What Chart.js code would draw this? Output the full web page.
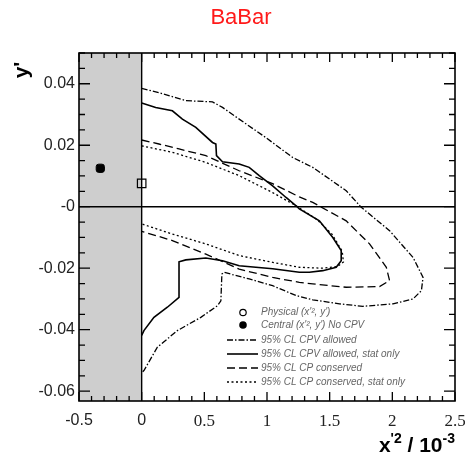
<!DOCTYPE html>
<html><head><meta charset="utf-8">
<script src="https://cdn.jsdelivr.net/npm/chart.js@4/dist/chart.umd.min.js"></script>
<style>html,body{margin:0;padding:0;background:#fff;}#wrap{width:465px;height:459px;}</style>
</head><body><div id="wrap"><canvas id="c" width="465" height="459"></canvas></div>
<script>
// ---------------- data ----------------
const chartTitle = 'BaBar';
const xRange = [-0.5, 2.5];
const yRange = [-0.0632, 0.05];
const xTickValues = [-0.5, 0, 0.5, 1, 1.5, 2, 2.5];
const xTickLabels = ['-0.5', '0', '0.5', '1', '1.5', '2', '2.5'];
const yTickValues = [-0.06, -0.04, -0.02, 0, 0.02, 0.04];
const yTickLabels = ['-0.06', '-0.04', '-0.02', '-0', '0.02', '0.04'];
const legendLabels = [
  "Physical (x'\u00B2, y')",
  "Central (x'\u00B2, y') No CPV",
  '95% CL CPV allowed',
  '95% CL CPV allowed, stat only',
  '95% CL CP conserved',
  '95% CL CP conserved, stat only'
];

// 95% CL CPV allowed (dash-dot)
const cpvAllowedX = [0.0, 0.138, 0.272, 0.352, 0.565, 0.645, 0.778, 0.99, 1.205, 1.365, 1.632, 1.752, 1.978, 2.165, 2.245, 2.232, 2.165, 2.005, 1.765, 1.578, 1.365, 1.232, 1.045, 0.858, 0.725, 0.658, 0.64, 0.632, 0.605, 0.472, 0.285, 0.125, 0.018, 0.0];
const cpvAllowedY = [0.0385, 0.0371, 0.0355, 0.0345, 0.0341, 0.0323, 0.0285, 0.0225, 0.016, 0.0128, 0.0052, -0.0002, -0.0078, -0.0165, -0.023, -0.0273, -0.030, -0.0316, -0.0324, -0.0316, -0.0303, -0.0289, -0.0257, -0.0235, -0.0221, -0.0213, -0.0219, -0.0306, -0.0322, -0.036, -0.0403, -0.0457, -0.0533, -0.054];

// 95% CL CPV allowed, stat only (solid)
const cpvStatX = [0.0, 0.112, 0.245, 0.325, 0.432, 0.565, 0.592, 0.597, 0.645, 0.778, 0.858, 0.938, 1.045, 1.152, 1.232, 1.258, 1.418, 1.525, 1.592, 1.592, 1.552, 1.445, 1.338, 1.258, 1.045, 0.778, 0.645, 0.512, 0.352, 0.298, 0.298, 0.205, 0.098, 0.018, 0.0];
const cpvStatY = [0.0337, 0.0323, 0.0312, 0.0285, 0.0258, 0.0209, 0.0204, 0.0166, 0.0146, 0.0139, 0.0128, 0.0101, 0.0068, 0.003, 0.0003, -0.0007, -0.0046, -0.010, -0.0143, -0.0176, -0.0197, -0.0208, -0.0213, -0.0213, -0.0202, -0.0192, -0.0176, -0.0167, -0.0173, -0.0179, -0.0295, -0.0327, -0.036, -0.0403, -0.0419];

// 95% CL CP conserved (dashed)
const cpConsX = [0.0, 0.138, 0.298, 0.512, 0.778, 1.045, 1.258, 1.365, 1.632, 1.818, 1.952, 1.978, 1.898, 1.632, 1.365, 1.258, 1.045, 0.778, 0.512, 0.245, 0.032, 0.0];
const cpConsY = [0.0217, 0.0204, 0.0188, 0.0166, 0.0117, 0.0075, 0.0032, 0.0014, -0.0046, -0.0121, -0.0197, -0.024, -0.026, -0.0262, -0.0251, -0.0246, -0.023, -0.0203, -0.0154, -0.011, -0.0084, -0.008];

// 95% CL CP conserved, stat only (dotted)
const cpStatX = [0.0, 0.245, 0.512, 0.778, 1.045, 1.232, 1.40, 1.52, 1.60, 1.61, 1.56, 1.44, 1.258, 1.045, 0.778, 0.512, 0.245, 0.0];
const cpStatY = [0.0198, 0.0177, 0.0144, 0.0101, 0.0046, 0.0003, -0.0042, -0.009, -0.0145, -0.018, -0.0195, -0.0200, -0.0197, -0.0181, -0.0159, -0.0121, -0.0089, -0.0056];

// points
const physicalX = [0.0];
const physicalY = [0.0076];
const centralX = [-0.33];
const centralY = [0.0125];
// ---------------------------------------

const zip = (xs, ys) => xs.map((v, i) => ({x: v, y: ys[i]}));
const DASHDOT = [6, 2, 1.5, 2];
const DASHED = [8, 4];
const DOTTED = [2, 2.5];

function lineDs(label, xs, ys, dash, w) {
  return {label, data: zip(xs, ys), showLine: true, borderColor: '#000', borderWidth: w,
    borderDash: dash, pointRadius: 0, fill: false, tension: 0};
}

const datasets = [
  lineDs(legendLabels[2], cpvAllowedX, cpvAllowedY, DASHDOT, 1.3),
  lineDs(legendLabels[3], cpvStatX, cpvStatY, [], 1.6),
  lineDs(legendLabels[4], cpConsX, cpConsY, DASHED, 1.3),
  lineDs(legendLabels[5], cpStatX, cpStatY, DOTTED, 1.3),
  {label: legendLabels[0], data: zip(physicalX, physicalY), pointStyle: 'rect', pointRadius: 6,
   backgroundColor: 'rgba(0,0,0,0)', borderColor: '#000', borderWidth: 1.2, showLine: false},
  {label: legendLabels[1], data: zip(centralX, centralY), pointStyle: 'rectRounded', pointRadius: 4.8,
   backgroundColor: '#000', borderColor: '#000', borderWidth: 1, showLine: false}
];

function minorTicks(lo, hi, step) {
  const out = [];
  const n0 = Math.ceil(lo / step - 1e-9), n1 = Math.floor(hi / step + 1e-9);
  for (let n = n0; n <= n1; n++) out.push(+(n * step).toFixed(6));
  return out;
}

const decor = {
  id: 'decor',
  beforeDatasetsDraw(chart) {
    const {ctx, chartArea: a, scales: {x, y}} = chart;
    ctx.save();
    // grey unphysical region x < 0
    const g0 = x.getPixelForValue(xRange[0]), g1 = x.getPixelForValue(0);
    ctx.fillStyle = '#cecece';
    ctx.fillRect(g0, a.top, g1 - g0, a.bottom - a.top);
    // zero lines
    ctx.strokeStyle = '#000';
    ctx.lineWidth = 1.4;
    const y0 = y.getPixelForValue(0);
    ctx.beginPath(); ctx.moveTo(a.left, y0); ctx.lineTo(a.right, y0); ctx.stroke();
    ctx.beginPath(); ctx.moveTo(g1, a.top); ctx.lineTo(g1, a.bottom); ctx.stroke();
    ctx.restore();
  },
  afterDraw(chart) {
    const {ctx, chartArea: a, scales: {x, y}} = chart;
    ctx.save();
    // frame
    ctx.strokeStyle = '#000';
    ctx.lineWidth = 1.6;
    ctx.strokeRect(a.left, a.top, a.right - a.left, a.bottom - a.top);
    // ticks (inward, both sides)
    ctx.lineWidth = 1.3;
    ctx.beginPath();
    minorTicks(xRange[0], xRange[1], 0.1).forEach(v => {
      const px = x.getPixelForValue(v);
      const major = Math.abs(v / 0.5 - Math.round(v / 0.5)) < 1e-6;
      const L = major ? 9 : 5;
      ctx.moveTo(px, a.bottom); ctx.lineTo(px, a.bottom - L);
      ctx.moveTo(px, a.top); ctx.lineTo(px, a.top + L);
    });
    minorTicks(yRange[0], yRange[1], 0.005).forEach(v => {
      const py = y.getPixelForValue(v);
      const major = Math.abs(v / 0.02 - Math.round(v / 0.02)) < 1e-6;
      const L = major ? 11 : 6;
      ctx.moveTo(a.left, py); ctx.lineTo(a.left + L, py);
      ctx.moveTo(a.right, py); ctx.lineTo(a.right - L, py);
    });
    ctx.stroke();

    // chart title
    ctx.fillStyle = '#ff1a1a';
    ctx.font = '22px "Liberation Sans", Arial, sans-serif';
    ctx.textAlign = 'center';
    ctx.textBaseline = 'middle';
    ctx.fillText(chartTitle, 241, 18);

    // y axis title (rotated)
    ctx.fillStyle = '#000';
    ctx.save();
    ctx.translate(22, 70);
    ctx.rotate(-Math.PI / 2);
    ctx.font = 'bold 21px "Liberation Sans", Arial, sans-serif';
    ctx.textAlign = 'center';
    ctx.textBaseline = 'middle';
    ctx.fillText("y'", 0, 0);
    ctx.restore();

    // x axis title: x'^2 / 10^-3, right aligned
    const big = 'bold 21px "Liberation Sans", Arial, sans-serif';
    const small = 'bold 14px "Liberation Sans", Arial, sans-serif';
    const parts = [["x", big, 0], ["'2", small, -9], [" / 10", big, 0], ["-3", small, -9]];
    let total = 0;
    parts.forEach(p => { ctx.font = p[1]; total += ctx.measureText(p[0]).width; });
    let cx = a.right - total;
    ctx.textAlign = 'left';
    ctx.textBaseline = 'alphabetic';
    parts.forEach(p => { ctx.font = p[1]; ctx.fillText(p[0], cx, 452 + p[2]); cx += ctx.measureText(p[0]).width; });

    // legend
    const lx0 = 227, lx1 = 258, tx = 261;
    const rows = [312.5, 325, 340, 354, 368, 382];
    ctx.fillStyle = '#666';
    ctx.font = 'italic 10px "Liberation Sans", Arial, sans-serif';
    ctx.textBaseline = 'middle';
    legendLabels.forEach((t, i) => ctx.fillText(t, tx, rows[i]));
    ctx.strokeStyle = '#000';
    ctx.fillStyle = '#000';
    ctx.lineWidth = 1.2;
    ctx.beginPath(); ctx.arc(243, rows[0], 3.2, 0, Math.PI * 2); ctx.stroke();
    ctx.beginPath(); ctx.arc(243, rows[1], 3.8, 0, Math.PI * 2); ctx.fill();
    const styles = [[DASHDOT, 1.3], [[], 1.6], [DASHED, 1.3], [DOTTED, 1.3]];
    styles.forEach((s, i) => {
      ctx.setLineDash(s[0]);
      ctx.lineWidth = s[1];
      ctx.beginPath(); ctx.moveTo(lx0, rows[i + 2]); ctx.lineTo(lx1, rows[i + 2]); ctx.stroke();
    });
    ctx.setLineDash([]);
    ctx.restore();
  }
};

new Chart(document.getElementById('c'), {
  type: 'scatter',
  data: {datasets},
  options: {
    responsive: false,
    animation: false,
    devicePixelRatio: 1,
    events: [],
    layout: {padding: {left: 0, top: 53, right: 0, bottom: 0}},
    plugins: {legend: {display: false}, title: {display: false}, tooltip: {enabled: false}},
    scales: {
      x: {
        type: 'linear', min: xRange[0], max: xRange[1],
        grid: {display: false, drawTicks: false}, border: {display: false},
        afterBuildTicks: s => { s.ticks = xTickValues.map(v => ({value: v})); },
        afterFit: s => { s.height = 58; s.paddingLeft = 0; s.paddingRight = 10; },
        ticks: {
          padding: 10, color: '#222', maxRotation: 0, autoSkip: false,
          font: c => (c.tick && c.tick.value >= 0.5)
            ? {family: '"Liberation Serif", "Times New Roman", serif', size: 17}
            : {family: '"Liberation Sans", Arial, sans-serif', size: 16},
          callback: (v) => xTickLabels[xTickValues.findIndex(t => Math.abs(t - v) < 1e-9)]
        }
      },
      y: {
        type: 'linear', min: yRange[0], max: yRange[1],
        grid: {display: false, drawTicks: false}, border: {display: false},
        afterBuildTicks: s => { s.ticks = yTickValues.map(v => ({value: v})); },
        afterFit: s => { s.width = 79; s.paddingTop = 0; s.paddingBottom = 0; },
        ticks: {
          padding: 4, color: '#222', autoSkip: false,
          font: {family: '"Liberation Sans", Arial, sans-serif', size: 16},
          callback: (v) => yTickLabels[yTickValues.findIndex(t => Math.abs(t - v) < 1e-9)]
        }
      }
    }
  },
  plugins: [decor]
});
</script>
</body></html>
